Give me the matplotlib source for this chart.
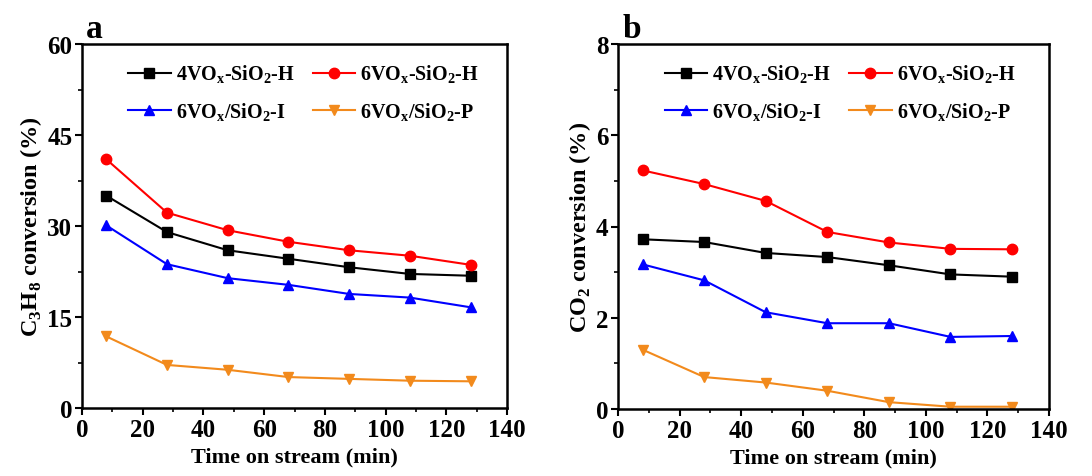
import matplotlib
matplotlib.use('Agg')
import matplotlib.pyplot as plt
from matplotlib.ticker import MultipleLocator

plt.rcParams['font.family'] = ['Liberation Serif', 'DejaVu Serif']
plt.rcParams['font.weight'] = 'bold'
plt.rcParams['mathtext.fontset'] = 'custom'
plt.rcParams['mathtext.rm'] = 'Liberation Serif:bold'
plt.rcParams['mathtext.bf'] = 'Liberation Serif:bold'

tiempo = [8, 28, 48, 68, 88, 108, 128]

# panel a: C3H8 conversion
c3h8_4h = [35.0, 29.0, 26.0, 24.6, 23.2, 22.1, 21.8]
c3h8_6h = [41.0, 32.2, 29.3, 27.4, 26.0, 25.1, 23.6]
c3h8_6i = [30.1, 23.7, 21.4, 20.3, 18.8, 18.2, 16.6]
c3h8_6p = [11.8, 7.1, 6.3, 5.1, 4.8, 4.5, 4.4]

# panel b: CO2 conversion
co2_4h = [3.72, 3.66, 3.42, 3.33, 3.15, 2.95, 2.90]
co2_6h = [5.23, 4.93, 4.56, 3.88, 3.65, 3.51, 3.50]
co2_6i = [3.17, 2.82, 2.12, 1.88, 1.88, 1.58, 1.60]
co2_6p = [1.30, 0.70, 0.58, 0.40, 0.15, 0.05, 0.05]

etichette = [r'4VO$_\mathregular{x}$-SiO$_\mathregular{2}$-H',
             r'6VO$_\mathregular{x}$-SiO$_\mathregular{2}$-H',
             r'6VO$_\mathregular{x}$/SiO$_\mathregular{2}$-I',
             r'6VO$_\mathregular{x}$/SiO$_\mathregular{2}$-P']
colori = ['black', 'red', 'blue', '#f28a1c']
marker = ['s', 'o', '^', 'v']

fig = plt.figure(figsize=(10.92, 4.77), dpi=100)
ax1 = fig.add_axes([82/1092, 1 - 409/477, 425/1092, 364/477])
ax2 = fig.add_axes([618/1092, 1 - 410/477, 431/1092, 365/477])


def pannello(ax, serie, ymax, ystep, ylabel, lettera):
    linee = []
    for y, c, m, lab in zip(serie, colori, marker, etichette):
        l, = ax.plot(tiempo, y, color=c, marker=m, markersize=7.5, linewidth=1.5, label=lab)
        linee.append(l)
    ax.set_xlim(0, 140)
    ax.set_ylim(0, ymax)
    ax.xaxis.set_major_locator(MultipleLocator(20))
    ax.xaxis.set_minor_locator(MultipleLocator(10))
    ax.yaxis.set_major_locator(MultipleLocator(ystep))
    ax.yaxis.set_minor_locator(MultipleLocator(ystep / 2))
    ax.tick_params(which='major', direction='out', length=5, width=1.5, labelsize=18, pad=2)
    ax.tick_params(which='minor', direction='out', length=3, width=1.2)
    for s in ax.spines.values():
        s.set_linewidth(1.8)
    ax.set_xlabel('Time on stream (min)', fontsize=16, fontweight='bold', labelpad=4)
    ax.set_ylabel(ylabel, fontsize=17.5, fontweight='bold', labelpad=2)
    # ordine per riga: 4H, 6H / 6I, 6P
    ordine = [0, 2, 1, 3]
    ax.legend([linee[i] for i in ordine], [etichette[i] for i in ordine],
              ncol=2, frameon=False, fontsize=14.5, loc='upper left',
              bbox_to_anchor=(0.09, 0.97), handlelength=2.1, handletextpad=0.25,
              columnspacing=0.9, labelspacing=0.75, borderaxespad=0.0)
    ax.text(0.01, 1.0, lettera, transform=ax.transAxes, fontsize=24,
            fontweight='bold', ha='left', va='bottom')


pannello(ax1, [c3h8_4h, c3h8_6h, c3h8_6i, c3h8_6p], 60, 15,
         r'C$_\mathregular{3}$H$_\mathregular{8}$ conversion (%)', 'a')
pannello(ax2, [co2_4h, co2_6h, co2_6i, co2_6p], 8, 2,
         r'CO$_\mathregular{2}$ conversion (%)', 'b')

plt.savefig('out.png', dpi=100)
